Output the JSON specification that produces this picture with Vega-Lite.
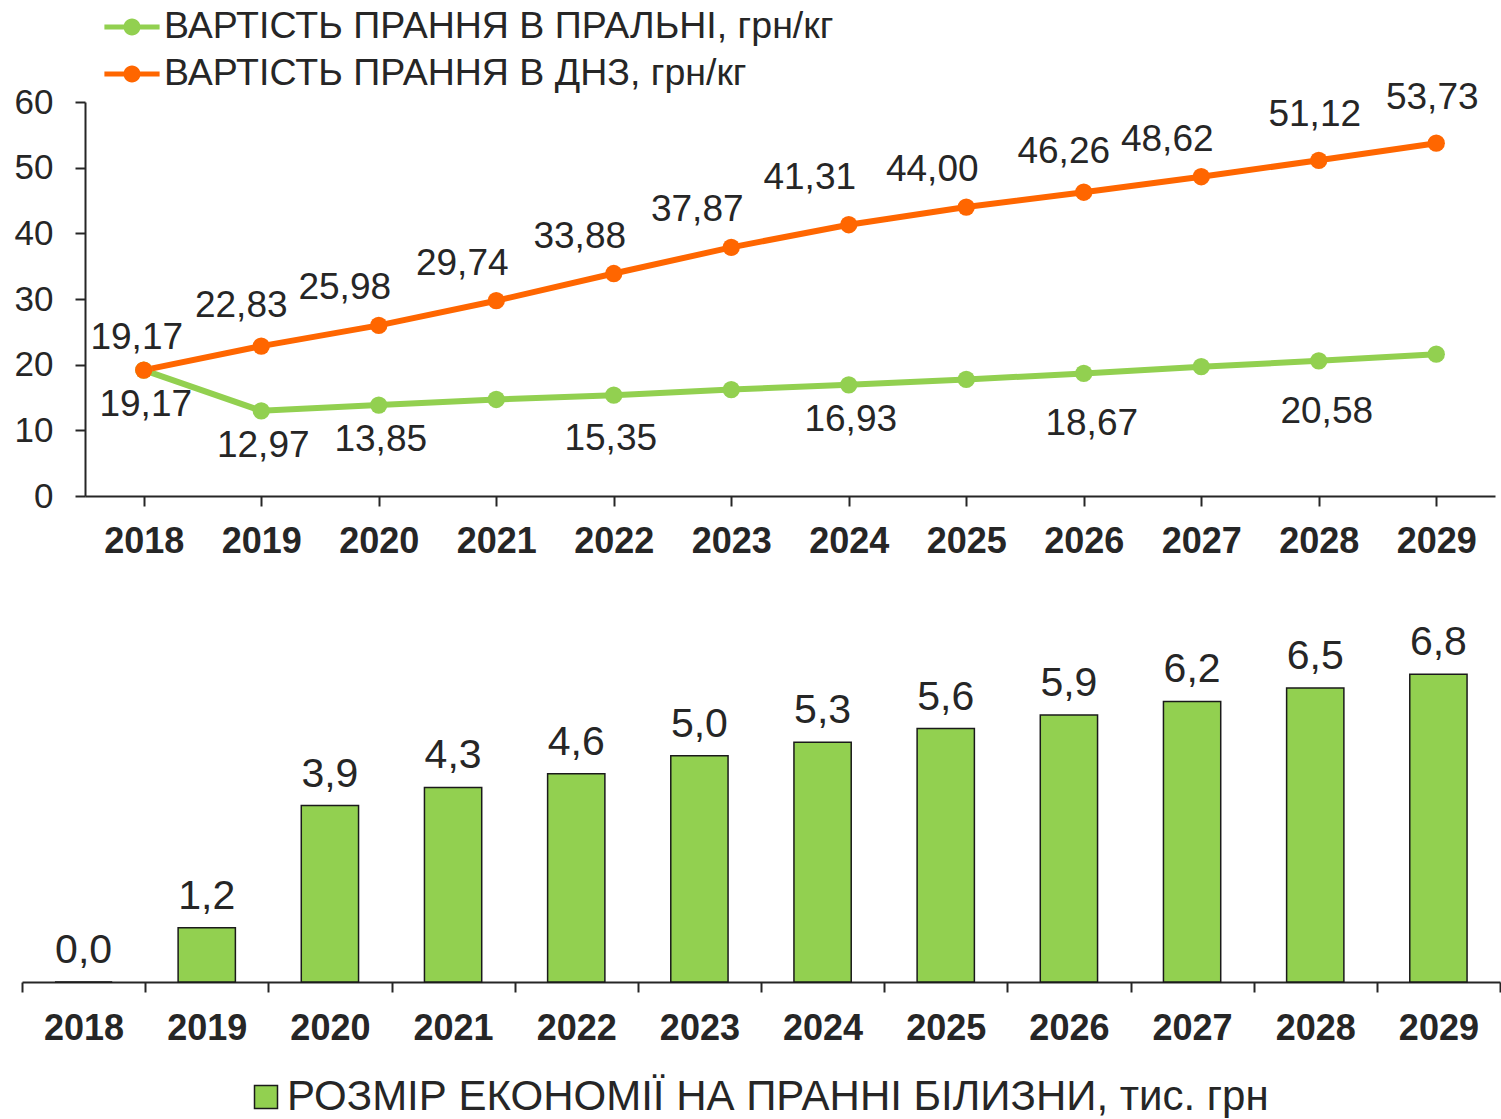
{
  "$schema": "https://vega.github.io/schema/vega-lite/v6.json",
  "padding": {"left": 14, "top": 4, "right": 0, "bottom": 0},
  "background": "white",
  "config": {
    "font": "Liberation Sans",
    "view": {"stroke": null},
    "locale": {"number": {"decimal": ",", "thousands": " ", "grouping": [3], "currency": ["", ""]}}
  },
  "datasets": {
    "lines": [
      {"year": "2018", "series": "ВАРТІСТЬ ПРАННЯ В ПРАЛЬНІ, грн/кг", "value": 19.17},
      {"year": "2019", "series": "ВАРТІСТЬ ПРАННЯ В ПРАЛЬНІ, грн/кг", "value": 12.97},
      {"year": "2020", "series": "ВАРТІСТЬ ПРАННЯ В ПРАЛЬНІ, грн/кг", "value": 13.85},
      {"year": "2021", "series": "ВАРТІСТЬ ПРАННЯ В ПРАЛЬНІ, грн/кг", "value": 14.7},
      {"year": "2022", "series": "ВАРТІСТЬ ПРАННЯ В ПРАЛЬНІ, грн/кг", "value": 15.35},
      {"year": "2023", "series": "ВАРТІСТЬ ПРАННЯ В ПРАЛЬНІ, грн/кг", "value": 16.2},
      {"year": "2024", "series": "ВАРТІСТЬ ПРАННЯ В ПРАЛЬНІ, грн/кг", "value": 16.93},
      {"year": "2025", "series": "ВАРТІСТЬ ПРАННЯ В ПРАЛЬНІ, грн/кг", "value": 17.75},
      {"year": "2026", "series": "ВАРТІСТЬ ПРАННЯ В ПРАЛЬНІ, грн/кг", "value": 18.67},
      {"year": "2027", "series": "ВАРТІСТЬ ПРАННЯ В ПРАЛЬНІ, грн/кг", "value": 19.7},
      {"year": "2028", "series": "ВАРТІСТЬ ПРАННЯ В ПРАЛЬНІ, грн/кг", "value": 20.58},
      {"year": "2029", "series": "ВАРТІСТЬ ПРАННЯ В ПРАЛЬНІ, грн/кг", "value": 21.6},
      {"year": "2018", "series": "ВАРТІСТЬ ПРАННЯ В ДНЗ, грн/кг", "value": 19.17},
      {"year": "2019", "series": "ВАРТІСТЬ ПРАННЯ В ДНЗ, грн/кг", "value": 22.83},
      {"year": "2020", "series": "ВАРТІСТЬ ПРАННЯ В ДНЗ, грн/кг", "value": 25.98},
      {"year": "2021", "series": "ВАРТІСТЬ ПРАННЯ В ДНЗ, грн/кг", "value": 29.74},
      {"year": "2022", "series": "ВАРТІСТЬ ПРАННЯ В ДНЗ, грн/кг", "value": 33.88},
      {"year": "2023", "series": "ВАРТІСТЬ ПРАННЯ В ДНЗ, грн/кг", "value": 37.87},
      {"year": "2024", "series": "ВАРТІСТЬ ПРАННЯ В ДНЗ, грн/кг", "value": 41.31},
      {"year": "2025", "series": "ВАРТІСТЬ ПРАННЯ В ДНЗ, грн/кг", "value": 44.0},
      {"year": "2026", "series": "ВАРТІСТЬ ПРАННЯ В ДНЗ, грн/кг", "value": 46.26},
      {"year": "2027", "series": "ВАРТІСТЬ ПРАННЯ В ДНЗ, грн/кг", "value": 48.62},
      {"year": "2028", "series": "ВАРТІСТЬ ПРАННЯ В ДНЗ, грн/кг", "value": 51.12},
      {"year": "2029", "series": "ВАРТІСТЬ ПРАННЯ В ДНЗ, грн/кг", "value": 53.73}
    ],
    "bars": [
      {"year": "2018", "value": 0.0},
      {"year": "2019", "value": 1.2},
      {"year": "2020", "value": 3.9},
      {"year": "2021", "value": 4.3},
      {"year": "2022", "value": 4.6},
      {"year": "2023", "value": 5.0},
      {"year": "2024", "value": 5.3},
      {"year": "2025", "value": 5.6},
      {"year": "2026", "value": 5.9},
      {"year": "2027", "value": 6.2},
      {"year": "2028", "value": 6.5},
      {"year": "2029", "value": 6.8}
    ]
  },
  "spacing": 61,
  "resolve": {
    "scale": {"color": "independent", "fill": "independent", "stroke": "independent"},
    "legend": {"color": "independent", "fill": "independent", "stroke": "independent"}
  },
  "vconcat": [
    {
      "width": 1478,
      "height": 394,
      "data": {"name": "lines"},
      "encoding": {
        "x": {
          "field": "year", "type": "ordinal",
          "scale": {"type": "point", "padding": 0.5, "range": [63, 1473]},
          "axis": {
            "title": null, "labelAngle": 0, "labelFontSize": 36, "labelFontWeight": "bold",
            "labelColor": "#262626", "tickSize": 10, "labelPadding": 18,
            "domainColor": "#262626", "tickColor": "#262626", "domainWidth": 2, "tickWidth": 2, "grid": false
          }
        },
        "y": {
          "field": "value", "type": "quantitative",
          "scale": {"domain": [0, 60], "nice": false},
          "axis": {
            "title": null, "offset": -63, "values": [0, 10, 20, 30, 40, 50, 60], "labelFontSize": 35,
            "labelColor": "#262626", "tickSize": 10, "labelPadding": 22, "grid": false,
            "domainColor": "#262626", "tickColor": "#262626", "domainWidth": 2, "tickWidth": 2
          }
        }
      },
      "layer": [
        {
          "mark": {"type": "line", "strokeWidth": 6},
          "encoding": {
            "stroke": {
              "field": "series", "type": "nominal",
              "scale": {"domain": ["ВАРТІСТЬ ПРАННЯ В ДНЗ, грн/кг", "ВАРТІСТЬ ПРАННЯ В ПРАЛЬНІ, грн/кг"], "range": ["#FF6600", "#92D050"]},
              "legend": null
            }
          }
        },
        {
          "mark": {"type": "point", "filled": true, "size": 300, "opacity": 1, "strokeWidth": 0},
          "encoding": {
            "color": {
              "field": "series", "type": "nominal",
              "scale": {"domain": ["ВАРТІСТЬ ПРАННЯ В ПРАЛЬНІ, грн/кг", "ВАРТІСТЬ ПРАННЯ В ДНЗ, грн/кг"], "range": ["#92D050", "#FF6600"]},
              "legend": {
                "title": null, "orient": "none", "legendX": 87, "legendY": -98,
                "direction": "vertical", "padding": 0, "rowPadding": 5,
                "symbolType": "M-1.2,-0.11L1.2,-0.11L1.2,0.11L-1.2,0.11Z M0.37,0A0.37,0.37,0,1,1,-0.37,0A0.37,0.37,0,1,1,0.37,0Z",
                "symbolSize": 2116, "symbolStrokeWidth": 0, "symbolOpacity": 1,
                "labelFontSize": 37.5, "labelColor": "#262626", "labelOffset": 9, "labelLimit": 0
              }
            }
          }
        },
        {
          "transform": [{"filter": "datum.series === 'ВАРТІСТЬ ПРАННЯ В ДНЗ, грн/кг'"}, {"filter": {"field": "year", "oneOf": ["2018"]}}],
          "mark": {"type": "text", "dx": -7, "dy": -32, "fontSize": 37, "color": "#262626", "baseline": "middle"},
          "encoding": {"text": {"field": "value", "type": "quantitative", "format": ".2f"}}
        },
        {
          "transform": [{"filter": "datum.series === 'ВАРТІСТЬ ПРАННЯ В ДНЗ, грн/кг'"}, {"filter": {"field": "year", "oneOf": ["2019", "2026"]}}],
          "mark": {"type": "text", "dx": -20, "dy": -40, "fontSize": 37, "color": "#262626", "baseline": "middle"},
          "encoding": {"text": {"field": "value", "type": "quantitative", "format": ".2f"}}
        },
        {
          "transform": [{"filter": "datum.series === 'ВАРТІСТЬ ПРАННЯ В ДНЗ, грн/кг'"}, {"filter": {"field": "year", "oneOf": ["2020", "2021", "2022", "2023", "2025", "2027"]}}],
          "mark": {"type": "text", "dx": -34, "dy": -37, "fontSize": 37, "color": "#262626", "baseline": "middle"},
          "encoding": {"text": {"field": "value", "type": "quantitative", "format": ".2f"}}
        },
        {
          "transform": [{"filter": "datum.series === 'ВАРТІСТЬ ПРАННЯ В ДНЗ, грн/кг'"}, {"filter": {"field": "year", "oneOf": ["2024"]}}],
          "mark": {"type": "text", "dx": -39, "dy": -47, "fontSize": 37, "color": "#262626", "baseline": "middle"},
          "encoding": {"text": {"field": "value", "type": "quantitative", "format": ".2f"}}
        },
        {
          "transform": [{"filter": "datum.series === 'ВАРТІСТЬ ПРАННЯ В ДНЗ, грн/кг'"}, {"filter": {"field": "year", "oneOf": ["2028", "2029"]}}],
          "mark": {"type": "text", "dx": -4, "dy": -45, "fontSize": 37, "color": "#262626", "baseline": "middle"},
          "encoding": {"text": {"field": "value", "type": "quantitative", "format": ".2f"}}
        },
        {
          "transform": [
            {"filter": "datum.series === 'ВАРТІСТЬ ПРАННЯ В ПРАЛЬНІ, грн/кг'"},
            {"filter": {"field": "year", "oneOf": ["2018", "2019", "2020", "2024"]}}
          ],
          "mark": {"type": "text", "dx": 2, "dy": 35, "fontSize": 37, "color": "#262626", "baseline": "middle"},
          "encoding": {"text": {"field": "value", "type": "quantitative", "format": ".2f"}}
        },
        {
          "transform": [
            {"filter": "datum.series === 'ВАРТІСТЬ ПРАННЯ В ПРАЛЬНІ, грн/кг'"},
            {"filter": {"field": "year", "oneOf": ["2022"]}}
          ],
          "mark": {"type": "text", "dx": -3, "dy": 44, "fontSize": 37, "color": "#262626", "baseline": "middle"},
          "encoding": {"text": {"field": "value", "type": "quantitative", "format": ".2f"}}
        },
        {
          "transform": [
            {"filter": "datum.series === 'ВАРТІСТЬ ПРАННЯ В ПРАЛЬНІ, грн/кг'"},
            {"filter": {"field": "year", "oneOf": ["2026", "2028"]}}
          ],
          "mark": {"type": "text", "dx": 8, "dy": 51, "fontSize": 37, "color": "#262626", "baseline": "middle"},
          "encoding": {"text": {"field": "value", "type": "quantitative", "format": ".2f"}}
        }
      ]
    },
    {
      "width": 1478,
      "height": 362,
      "data": {"name": "bars"},
      "encoding": {
        "x": {
          "field": "year", "type": "ordinal",
          "scale": {"type": "band", "padding": 0},
          "axis": {
            "title": null, "labelAngle": 0, "labelFontSize": 36, "labelFontWeight": "bold",
            "labelColor": "#262626", "tickSize": 10, "labelPadding": 19, "tickBand": "extent",
            "domainColor": "#262626", "tickColor": "#262626", "domainWidth": 2, "tickWidth": 2, "grid": false
          }
        },
        "y": {
          "field": "value", "type": "quantitative",
          "scale": {"domain": [0, 8], "nice": false},
          "axis": null
        }
      },
      "layer": [
        {
          "mark": {"type": "bar", "width": {"band": 0.465}, "stroke": "#1a1a1a", "strokeWidth": 1.5},
          "encoding": {
            "fill": {
              "datum": "РОЗМІР ЕКОНОМІЇ НА ПРАННІ БІЛИЗНИ, тис. грн", "type": "nominal",
              "scale": {"range": ["#92D050"]},
              "legend": {
                "title": null, "orient": "none", "legendX": 223, "legendY": 456, "padding": 0,
                "symbolType": "square", "symbolSize": 529, "symbolStrokeColor": "#1a1a1a", "symbolStrokeWidth": 1.5,
                "symbolFillColor": "#92D050", "symbolOpacity": 1,
                "labelFontSize": 42, "labelColor": "#262626", "labelOffset": 0, "labelLimit": 0
              }
            }
          }
        },
        {
          "mark": {"type": "text", "dy": -10, "baseline": "bottom", "fontSize": 41, "color": "#262626"},
          "encoding": {"text": {"field": "value", "type": "quantitative", "format": ".1f"}}
        }
      ]
    }
  ]
}
